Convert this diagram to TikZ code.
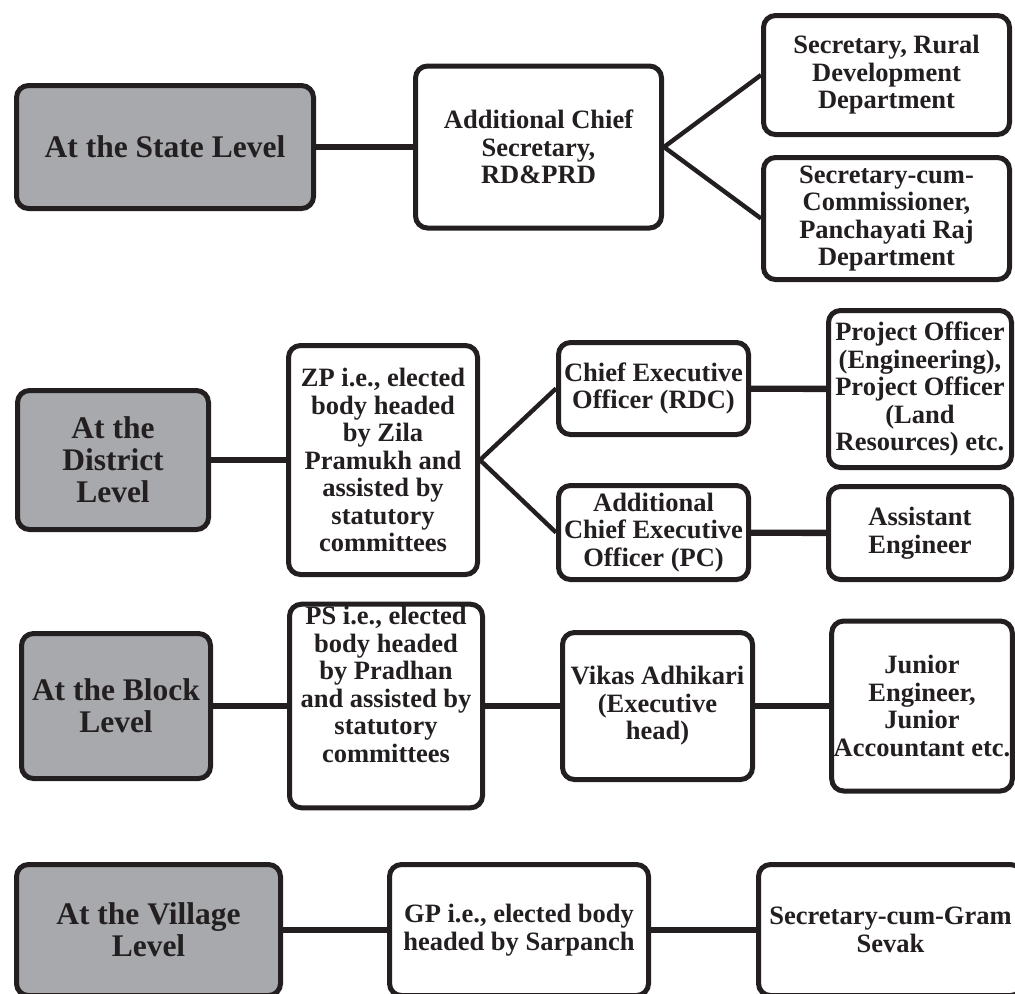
\documentclass[tikz,border=0pt]{standalone}
\usepackage{fontspec}
\setmainfont{Liberation Serif}
\usepackage{tikz}
\usetikzlibrary{positioning}
\definecolor{levelgrey}{RGB}{167,169,172}
\definecolor{inkblack}{RGB}{35,31,32}

\begin{document}
\begin{tikzpicture}[x=0.5pt, y=-0.5pt,
    box/.style={draw=inkblack, line width=2.5pt, rounded corners=6pt, fill=white,
        align=center, text=inkblack, inner sep=1pt,
        font=\bfseries\fontsize{13.25}{13.75}\selectfont},
    levelbox/.style={box, fill=levelgrey, font=\bfseries\fontsize{15.75}{16}\selectfont},
    link/.style={draw=inkblack, line width=3.2pt},
    fork/.style={draw=inkblack, line width=2.2pt}]
    \useasboundingbox (0,0) rectangle (1015,993);
    \clip (0,0) rectangle (1015,993);

    % State level
    \node[levelbox, minimum width=148.5pt, minimum height=61.5pt] (state) at (165,147) {At the State Level};
    \node[box, minimum width=123pt, minimum height=81pt] (acs) at (538.5,147) {Additional Chief\\Secretary,\\RD\&PRD};
    \node[box, minimum width=123pt, minimum height=59.5pt] (secrd) at (886.5,75) {Secretary, Rural\\Development\\Department};
    \node[box, minimum width=123pt, minimum height=61pt] (seccom) at (886.5,218.5) {Secretary-cum-\\Commissioner,\\Panchayati Raj\\Department};
    \draw[link] (state) -- (acs);
    \draw[fork] (acs.east) -- (secrd.west);
    \draw[fork] (acs.east) -- (seccom.west);

    % District level
    \node[levelbox, minimum width=95.5pt, minimum height=69.5pt] (district) at (113,460) {At the\\District\\Level};
    \node[box, minimum width=94.5pt, minimum height=114.5pt] (zp) at (383,460) {ZP i.e., elected\\body headed\\by Zila\\Pramukh and\\assisted by\\statutory\\committees};
    \node[box, minimum width=95pt, minimum height=46pt] (ceo) at (653.5,388.5) {Chief Executive\\Officer (RDC)};
    \node[box, minimum width=95pt, minimum height=47pt] (aceo) at (653.5,532.5) {Additional\\Chief Executive\\Officer (PC)};
    \node[box, minimum width=91.5pt, minimum height=78.5pt] (project) at (920,389) {Project Officer\\(Engineering),\\Project Officer\\(Land\\Resources) etc.};
    \node[box, minimum width=91.5pt, minimum height=46.5pt] (asst) at (920,533) {Assistant\\Engineer};
    \draw[link] (district) -- (zp);
    \draw[fork] (zp.east) -- (ceo.west);
    \draw[fork] (zp.east) -- (aceo.west);
    \draw[link] (ceo) -- (project);
    \draw[link] (aceo) -- (asst);

    % Block level
    \node[levelbox, minimum width=94.5pt, minimum height=72.5pt] (block) at (116,706) {At the Block\\Level};
    \node[box, minimum width=96.5pt, minimum height=101.5pt] (ps) at (386,706) {PS i.e., elected\\body headed\\by Pradhan\\and assisted by\\statutory\\committees\\[4pt]\strut};
    \node[box, minimum width=95pt, minimum height=73.5pt] (vikas) at (657.5,706) {Vikas Adhikari\\(Executive\\head)};
    \node[box, minimum width=89.5pt, minimum height=85pt] (junior) at (922,706) {Junior\\Engineer,\\Junior\\Accountant etc.};
    \draw[link] (block) -- (ps);
    \draw[link] (ps) -- (vikas);
    \draw[link] (vikas) -- (junior);

    % Village level
    \node[levelbox, minimum width=132pt, minimum height=65.5pt] (village) at (148.5,930) {At the Village\\Level};
    \node[box, minimum width=129.5pt, minimum height=65.5pt] (gp) at (519,930) {GP i.e., elected body\\headed by Sarpanch};
    \node[box, minimum width=132pt, minimum height=65.5pt] (secgram) at (890.5,930) {Secretary-cum-Gram\\Sevak};
    \draw[link] (village) -- (gp);
    \draw[link] (gp) -- (secgram);
\end{tikzpicture}
\end{document}
